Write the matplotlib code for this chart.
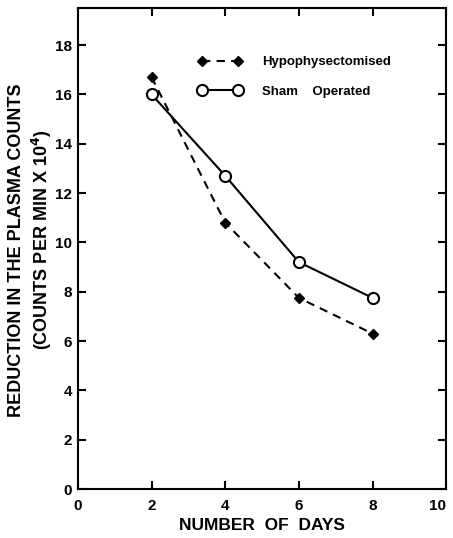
import matplotlib
matplotlib.use('Agg')
import matplotlib.pyplot as plt

days = [2, 4, 6, 8]
hypo = [16.7, 10.8, 7.75, 6.3]
sham = [16.0, 12.7, 9.2, 7.75]

plt.rcParams['font.family'] = ['Liberation Sans', 'DejaVu Sans']
plt.rcParams['font.weight'] = 'bold'

fig = plt.figure(figsize=(4.53, 5.38), dpi=100)
ax = fig.add_axes([0.172, 0.091, 0.813, 0.894])

ax.plot(days, hypo, color='black', linestyle=(0, (4, 3)), lw=1.5,
        marker='D', markersize=5, markerfacecolor='black',
        label='Hypophysectomised')
ax.plot(days, sham, color='black', linestyle='-', lw=1.5,
        marker='o', markersize=8, markerfacecolor='white',
        markeredgewidth=1.5, label='Sham    Operated')

ax.set_xlim(0, 10)
ax.set_ylim(0, 19.5)
ax.set_xticks(range(0, 11, 2))
ax.set_yticks(range(0, 19, 2))

for s in ax.spines.values():
    s.set_linewidth(1.5)
ax.tick_params(direction='in', length=6, width=1.5, top=True, right=True,
               labelsize=11)
ax.tick_params(axis='y', pad=4)
ax.tick_params(axis='x', pad=7)
ax.get_xticklabels()[-1].set_horizontalalignment('right')

ax.set_xlabel('NUMBER  OF  DAYS', fontsize=12.5, fontweight='bold', labelpad=4)

fig.text(0.036, 0.535, 'REDUCTION IN THE PLASMA COUNTS', rotation=90,
         ha='center', va='center', fontsize=13, fontweight='bold')
fig.text(0.093, 0.554, '(COUNTS PER MIN X 10$^{\\mathbf{4}}$)', rotation=90,
         ha='center', va='center', fontsize=13, fontweight='bold')

leg = ax.legend(loc='upper left', bbox_to_anchor=(0.295, 0.925), frameon=False,
                numpoints=2, handlelength=3.3, fontsize=9.5, labelspacing=1.3,
                handletextpad=1.5)

fig.savefig('out.png', dpi=100)
